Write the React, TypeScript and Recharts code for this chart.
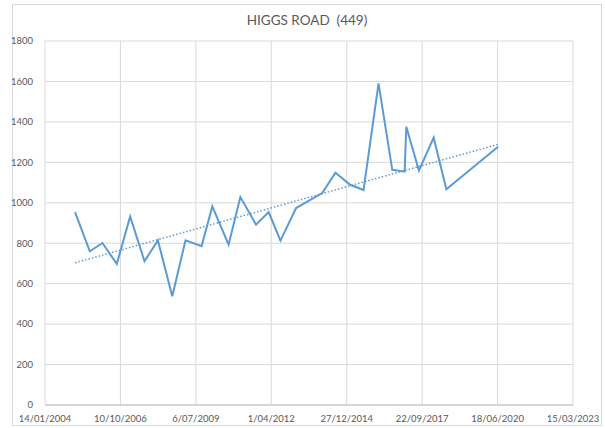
import { LineChart, Line, XAxis, YAxis, CartesianGrid } from 'recharts'

// survey dates and counts
const DATES = [
  '2005-02-15', '2005-08-30', '2006-02-13', '2006-08-23', '2007-02-16',
  '2007-08-25', '2008-02-19', '2008-08-27', '2009-02-19', '2009-09-20',
  '2010-02-09', '2010-09-13', '2011-02-16', '2011-09-12', '2012-02-26',
  '2012-07-31', '2013-02-24', '2014-02-05', '2014-07-31', '2015-02-11',
  '2015-08-07', '2016-02-22', '2016-08-22', '2017-02-02', '2017-02-24',
  '2017-08-10', '2018-02-22', '2018-08-09', '2020-06-25',
]
const COUNTS = [
  954, 760, 801, 698, 932, 711, 814, 538, 814, 785,
  982, 793, 1028, 892, 954, 813, 974, 1048, 1149, 1089,
  1063, 1590, 1163, 1154, 1376, 1159, 1322, 1067, 1277,
]

// dotted linear trendline, start and end as read
const TREND_DATES = ['2005-02-15', '2020-06-25']
const TREND_VALUES = [703, 1289]

const X_TICK_LABELS = [
  '14/01/2004', '10/10/2006', '6/07/2009', '1/04/2012',
  '27/12/2014', '22/09/2017', '18/06/2020', '15/03/2023',
]
const Y_TICKS = [0, 200, 400, 600, 800, 1000, 1200, 1400, 1600, 1800]

const FONT = 'Lato, "Open Sans", sans-serif'
const TEXT = '#595959'

const toTime = (iso: string) => Date.parse(iso + 'T00:00:00Z')
const fromLabel = (s: string) => {
  const [d, m, y] = s.split('/').map(Number)
  return Date.UTC(y, m - 1, d)
}
const fmt = (t: number) => {
  const d = new Date(t)
  return `${d.getUTCDate()}/${String(d.getUTCMonth() + 1).padStart(2, '0')}/${d.getUTCFullYear()}`
}

const series = DATES.map((d, i) => ({ t: toTime(d), v: COUNTS[i] }))
const trend = TREND_DATES.map((d, i) => ({ t: toTime(d), v: TREND_VALUES[i] }))
const xTicks = X_TICK_LABELS.map(fromLabel)

export default function App() {
  return (
    <div style={{ position: 'absolute', left: 0, top: 0, width: 605, height: 428, background: '#fff', fontFamily: FONT }}>
      <div
        style={{
          position: 'absolute', left: 12, top: 4, width: 590, height: 422,
          border: '1px solid #d9d9d9', boxSizing: 'border-box',
        }}
      />
      <div
        style={{
          position: 'absolute', left: 0, top: 12, width: 614, textAlign: 'center',
          fontSize: 13.5, color: TEXT, whiteSpace: 'pre',
        }}
      >
        HIGGS ROAD  (449)
      </div>
      <div style={{ position: 'absolute', left: 0, top: 0 }}>
        <LineChart width={605} height={428} margin={{ top: 41, right: 32, bottom: 0, left: 0 }}>
          <CartesianGrid stroke="#d9d9d9" strokeWidth={1} />
          <XAxis
            dataKey="t"
            type="number"
            scale="time"
            domain={[xTicks[0], xTicks[xTicks.length - 1]]}
            ticks={xTicks}
            tickFormatter={fmt}
            allowDataOverflow
            height={23}
            interval={0}
            tick={{ fill: TEXT, fontSize: 9.5, fontFamily: FONT }}
            tickLine={false}
            axisLine={{ stroke: '#bfbfbf' }}
            tickMargin={4}
          />
          <YAxis
            type="number"
            domain={[0, 1800]}
            ticks={Y_TICKS}
            width={45}
            interval={0}
            tick={{ fill: TEXT, fontSize: 9.5, fontFamily: FONT }}
            tickLine={false}
            axisLine={false}
            tickMargin={6}
          />
          <Line
            data={trend}
            dataKey="v"
            stroke="#5b9bd5"
            strokeWidth={1.5}
            strokeDasharray="1.5 2"
            dot={false}
            isAnimationActive={false}
          />
          <Line
            data={series}
            dataKey="v"
            stroke="#5b9bd5"
            strokeWidth={2}
            dot={false}
            isAnimationActive={false}
          />
        </LineChart>
      </div>
    </div>
  )
}
